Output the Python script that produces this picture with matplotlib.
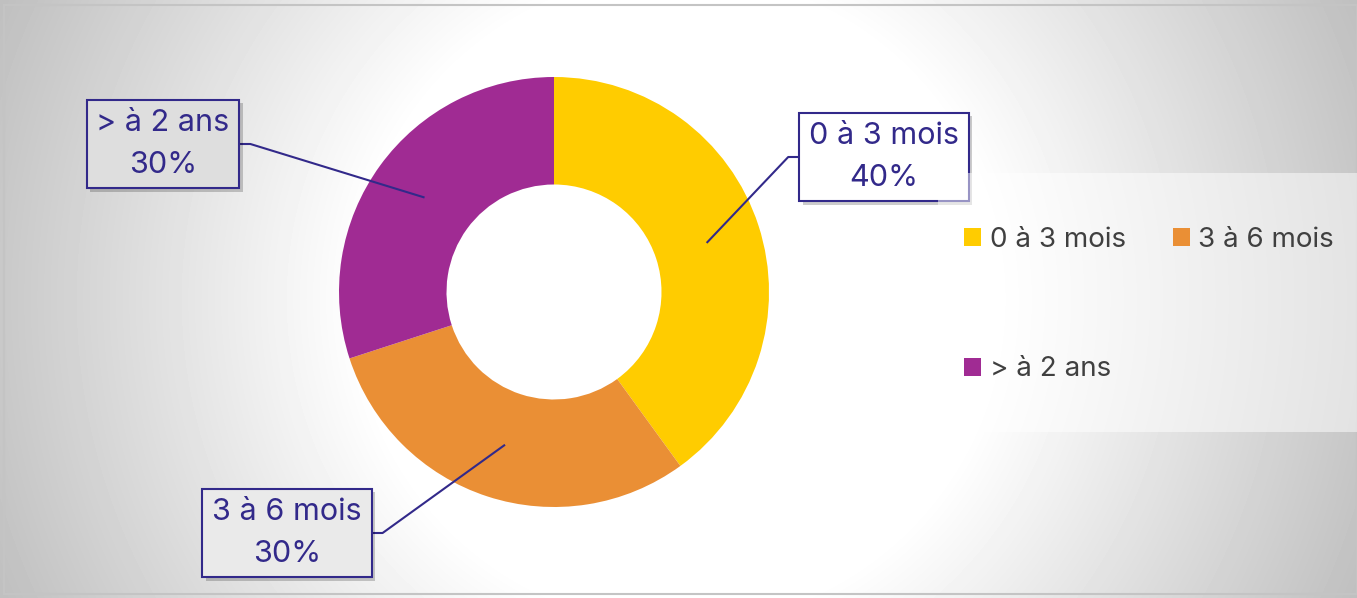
import numpy as np
import matplotlib.pyplot as plt
import matplotlib.patheffects as pe
from matplotlib.patches import Rectangle

# Share of files by age bracket
CATEGORIES = ["0 à 3 mois", "3 à 6 mois", "> à 2 ans"]
PERCENTS = [40, 30, 30]
COLORS = ["#FFCC00", "#EA8F35", "#A02B93"]

# Where each data label box sits, in pixels from the top-left corner
LABEL_POS = [(884, 157), (287, 533), (163, 144)]

W, H = 1357, 598
CENTER = (554, 292)
RADIUS = 215
NAVY = "#32298A"
FONT = "Inter"


def bg_level(px, py):
    ''' grey level of the radial backdrop at a pixel '''
    r = np.hypot(px - W / 2, py - H / 2)
    t = np.clip((r - 320) / (740 - 320), 0, 1)
    return 1 - t * 0.25


def draw_backdrop(fig):
    ''' radial white-to-grey gradient inside a thin frame '''
    bg = fig.add_axes([0, 0, 1, 1])
    xs, ys = np.meshgrid(np.arange(W), np.arange(H))
    img = bg_level(xs, ys)
    bg.imshow(img, cmap="gray", vmin=0, vmax=1, extent=(0, W, H, 0),
              aspect="auto", interpolation="bilinear")
    bg.add_patch(Rectangle((4, 5), W - 4, 589, fill=False,
                           ec="#c4c4c4", lw=1.5))
    bg.set_xlim(0, W)
    bg.set_ylim(H, 0)
    bg.axis("off")


def to_data(px, py):
    return (px - CENTER[0]) / RADIUS, (CENTER[1] - py) / RADIUS


def main():
    plt.rcParams["font.family"] = [FONT, "DejaVu Sans"]
    fig = plt.figure(figsize=(W / 100, H / 100), dpi=100)
    fig.patch.set_facecolor("white")
    draw_backdrop(fig)

    ax = fig.add_axes([(CENTER[0] - RADIUS) / W,
                       (H - CENTER[1] - RADIUS) / H,
                       2 * RADIUS / W, 2 * RADIUS / H])
    wedges, _ = ax.pie(PERCENTS, colors=COLORS, startangle=90,
                       counterclock=False, radius=1,
                       wedgeprops=dict(width=0.5, linewidth=0))
    ax.set_xlim(-1, 1)
    ax.set_ylim(-1, 1)
    ax.axis("off")

    # boxed data labels
    labels = []
    for i, w in enumerate(wedges):
        px, py = LABEL_POS[i]
        shade = bg_level(px, py)
        t = ax.text(*to_data(px, py),
                    "%s\n%d%%" % (CATEGORIES[i], PERCENTS[i]),
                    ha="center", va="center", fontsize=22, color=NAVY,
                    linespacing=1.6, clip_on=False, zorder=4,
                    bbox=dict(boxstyle="square,pad=0.32",
                              fc=(shade, shade, shade), ec=NAVY, lw=1.5))
        t.get_bbox_patch().set_path_effects(
            [pe.SimplePatchShadow(offset=(2.5, -2.5), shadow_rgbFace="k",
                                  alpha=0.2), pe.Normal()])
        labels.append(t)

    # leader lines: short horizontal stub from the box, then into the ring
    fig.canvas.draw()
    inv = ax.transData.inverted()
    for i, w in enumerate(wedges):
        mid = np.radians((w.theta1 + w.theta2) / 2)
        tip = (0.75 * np.cos(mid), 0.75 * np.sin(mid))
        box = labels[i].get_bbox_patch().get_window_extent()
        ymid = (box.y0 + box.y1) / 2
        if LABEL_POS[i][0] > CENTER[0]:
            edge, elbow = (box.x0, ymid), (box.x0 - 11, ymid)
        else:
            edge, elbow = (box.x1, ymid), (box.x1 + 11, ymid)
        pts = inv.transform([edge, elbow])
        ax.plot([pts[0][0], pts[1][0], tip[0]], [pts[0][1], pts[1][1], tip[1]],
                color=NAVY, lw=1.5, clip_on=False, zorder=3)

    # translucent panel behind the legend
    fig.patches.append(Rectangle((938 / W, 1 - 432 / H), (W - 938) / W,
                                 259 / H, transform=fig.transFigure,
                                 fc="white", alpha=0.5, lw=0, zorder=1))
    # column-major fill: first row reads 0-3 / 3-6, second row > 2 ans
    order = [0, 2, 1]
    fig.legend([wedges[k] for k in order], [CATEGORIES[k] for k in order],
               ncol=2, loc="upper left",
               bbox_to_anchor=(964 / W, 1 - 227 / H), frameon=False,
               fontsize=20, labelcolor="#404040", handlelength=0.62,
               handleheight=0.62, handletextpad=0.3, columnspacing=1.7,
               labelspacing=3.72, borderpad=0, borderaxespad=0)

    fig.savefig("out.png", dpi=100)


main()
